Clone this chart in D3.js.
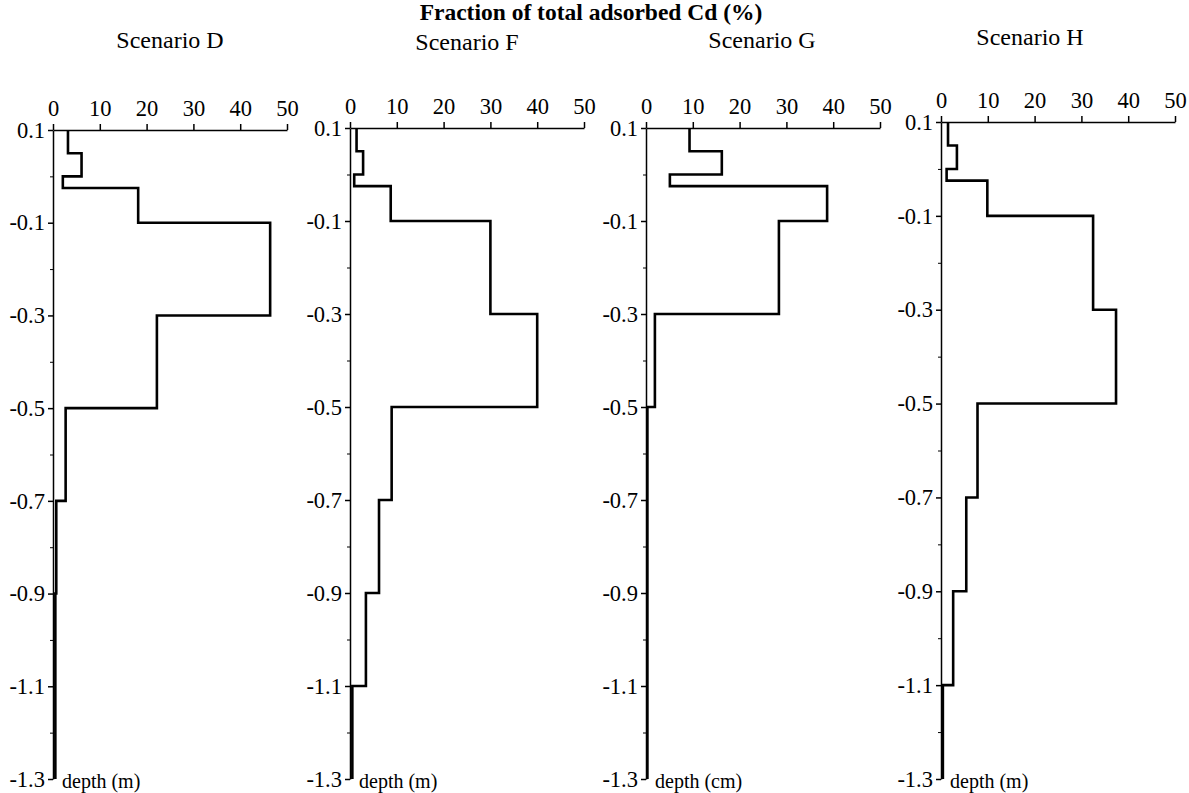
<!DOCTYPE html>
<html>
<head>
<meta charset="utf-8">
<script src="https://cdn.jsdelivr.net/npm/d3@7"></script>
<style>
  body { margin: 0; background: #fff; }
  svg { display: block; font-family: "Liberation Serif", "Times New Roman", serif; }
</style>
</head>
<body>
<svg width="1189" height="793"></svg>
<script>
// Границы слоёв по глубине (м)
const depthBounds = [0.1, 0.05, 0, -0.025, -0.1, -0.3, -0.5, -0.7, -0.9, -1.1, -1.3];

// Доля адсорбированного Cd (%) в каждом слое
const fracD = [3.2, 6.1, 2.1, 18.2, 46.4, 22.2, 2.7, 0.7, 0.5, 0.5];
const fracF = [1.4, 2.8, 0.9, 8.7, 30.0, 40.0, 8.9, 6.2, 3.4, 0.5];
const fracG = [9.3, 16.2, 5.1, 38.7, 28.4, 1.9, 0.3, 0.3, 0.3, 0.3];
const fracH = [1.5, 3.4, 1.2, 9.9, 32.5, 37.4, 7.8, 5.4, 2.6, 0.4];

const scenarioNames = ["Scenario D", "Scenario F", "Scenario G", "Scenario H"];
const depthLabels = ["depth (m)", "depth (m)", "depth (cm)", "depth (m)"];

const xTicks = [0, 10, 20, 30, 40, 50];
const yTicks = [0.1, -0.1, -0.3, -0.5, -0.7, -0.9, -1.1, -1.3];
const yMinor = [0, -0.2, -0.4, -0.6, -0.8, -1.0, -1.2];

const mainTitle = "Fraction of total adsorbed Cd (%)";

const allFrac = [fracD, fracF, fracG, fracH];

// Положение каждой панели на странице
const panelLeft = [53, 350, 646, 941];
const panelTop = [130, 128, 128, 122];
const titleX = [170, 467, 762, 1030];
const titleY = [48, 50, 48, 45];
const panelWidth = 234;
const panelBottom = 779;

let svg = d3.select("svg");

svg.append("text")
    .attr("x", 591)
    .attr("y", 20)
    .attr("text-anchor", "middle")
    .style("font-size", "23.5px")
    .style("font-weight", "bold")
    .text(mainTitle);

allFrac.forEach((vals, i) => {
    drawPanel(vals, i);
});

function drawPanel(vals, i) {
    let left = panelLeft[i], top = panelTop[i];

    let scX = d3.scaleLinear().domain([0, 50]).range([left, left + panelWidth]);
    let scY = d3.scaleLinear().domain([0.1, -1.3]).range([top, panelBottom]);

    // Заголовок панели
    svg.append("text")
        .attr("x", titleX[i])
        .attr("y", titleY[i])
        .attr("text-anchor", "middle")
        .style("font-size", "24px")
        .text(scenarioNames[i]);

    // Верхняя ось
    let gx = svg.append("g")
        .attr("transform", `translate(0, ${top})`)
        .call(d3.axisTop(scX).tickValues(xTicks).tickSize(6).tickSizeOuter(0).tickPadding(8));

    // Левая ось
    let gy = svg.append("g")
        .attr("transform", `translate(${left}, 0)`)
        .call(d3.axisLeft(scY).tickValues(yTicks).tickSize(5).tickSizeOuter(0).tickPadding(3)
            .tickFormat(d => d.toFixed(1)));

    // Промежуточные штрихи
    svg.append("g")
        .attr("transform", `translate(${left}, 0)`)
        .call(d3.axisLeft(scY).tickValues(yMinor).tickSize(3).tickSizeOuter(0).tickFormat(""))
        .call(g => g.select(".domain").remove())
        .selectAll(".tick line").attr("stroke", "#000").attr("stroke-width", 1);

    [gx, gy].forEach(g => {
        g.selectAll(".domain").attr("stroke", "#000").attr("stroke-width", 1.5);
        g.selectAll(".tick line").attr("stroke", "#000").attr("stroke-width", 1.5);
        g.selectAll(".tick text")
            .attr("fill", "#000")
            .style("font-family", "'Liberation Serif', 'Times New Roman', serif")
            .style("font-size", "22.5px");
    });

    // Ступенчатый профиль
    let pts = vals.flatMap((v, k) => [
        [scX(v), scY(depthBounds[k])],
        [scX(v), scY(depthBounds[k + 1])]
    ]);

    svg.append("path")
        .attr("d", d3.line()(pts))
        .attr("fill", "none")
        .attr("stroke", "#000")
        .attr("stroke-width", 2.6)
        .attr("stroke-linejoin", "miter");

    // Подпись глубины
    svg.append("text")
        .attr("x", left + 9)
        .attr("y", panelBottom + 9)
        .style("font-size", "20px")
        .text(depthLabels[i]);
}
</script>
</body>
</html>
